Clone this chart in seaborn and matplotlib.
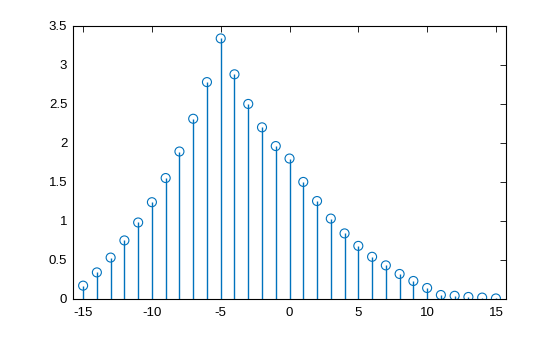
import matplotlib
matplotlib.use("Agg")
import matplotlib.pyplot as plt
import seaborn as sns
import numpy as np
import pandas as pd

n = list(range(-15, 16))
values = [0.17, 0.34, 0.53, 0.75, 0.98, 1.24, 1.55, 1.89, 2.31, 2.78, 3.34,
          2.88, 2.50, 2.20, 1.96, 1.80, 1.50, 1.255, 1.03, 0.84, 0.68, 0.54,
          0.43, 0.32, 0.23, 0.14, 0.05, 0.04, 0.025, 0.017, 0.006]
xticks = [-15, -10, -5, 0, 5, 10, 15]
yticks = [0, 0.5, 1, 1.5, 2, 2.5, 3, 3.5]
yticklabels = ["0", "0.5", "1", "1.5", "2", "2.5", "3", "3.5"]

sns.set_style("white")
plt.rcParams['font.family'] = ['Liberation Sans', 'DejaVu Sans']

df = pd.DataFrame({"n": n, "v": values})
color = (0, 0.447, 0.741)

fig = plt.figure(figsize=(5.6, 3.37), dpi=100)
ax = fig.add_axes([0.13, 0.113, 0.774, 0.81])

ax.vlines(df["n"], 0, df["v"], color=color, linewidth=1.0)
sns.scatterplot(data=df, x="n", y="v", ax=ax, marker="o", s=42,
                facecolors="none", edgecolor=color, linewidth=0.8, zorder=3)

ax.set_xlim(-15.75, 15.75)
ax.set_ylim(0, 3.5)
ax.set_xticks(xticks)
ax.set_xticklabels([str(t) for t in xticks])
ax.set_yticks(yticks)
ax.set_yticklabels(yticklabels)
ax.set_xlabel("")
ax.set_ylabel("")
for s in ax.spines.values():
    s.set_visible(True)
    s.set_color("black")
    s.set_linewidth(0.8)
ax.tick_params(direction="in", length=4, width=0.6, top=True, right=True,
               labelsize=9.5, colors="black", pad=4)
ax.tick_params(axis="x", pad=6)

fig.savefig("out.png", dpi=100)
